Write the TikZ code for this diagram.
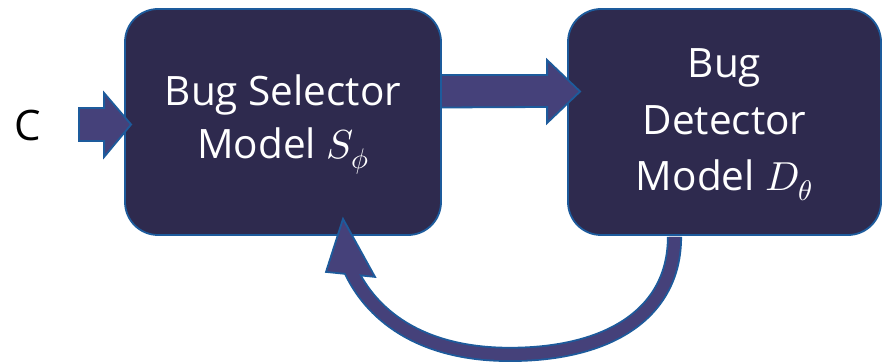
\documentclass[tikz,border=0pt]{standalone}
\usepackage{fontspec}
\usepackage{unicode-math}
\setmainfont{Open Sans}
\setmathfont{Latin Modern Math}
\usetikzlibrary{calc}

\definecolor{boxfill}{HTML}{2E2A4E}
\definecolor{arrowfill}{HTML}{45417A}
\definecolor{edgeblue}{HTML}{1D5B9C}

\tikzset{
  modelbox/.style={draw=edgeblue, line width=1.8pt, fill=boxfill,
    rounded corners=33pt, text=white, align=center, inner sep=0pt,
    font=\fontsize{40.5}{53}\selectfont},
  blockarrow/.style={draw=edgeblue, line width=1.8pt, fill=arrowfill,
    line join=miter},
  loopouter/.style={draw=edgeblue, line width=15.1pt},
  loopinner/.style={draw=arrowfill, line width=11.5pt},
}

\begin{document}
\begin{tikzpicture}[x=1pt, y=-1pt]
  \useasboundingbox (0,0) rectangle (882,363);

  % the two models
  \node[modelbox, minimum width=316pt, minimum height=226pt] (sel) at (283,122)
    {\rule{0pt}{36pt}Bug Selector\\Model $S_{\phi}$};
  \node[modelbox, minimum width=313pt, minimum height=226pt,
        font=\fontsize{40.5}{56.5}\selectfont] (det) at (724.5,122)
    {\rule{0pt}{34.5pt}Bug\\Detector\\Model $D_{\theta}$};

  % input label
  \node[font=\fontsize{42}{50}\selectfont, inner sep=0pt] (input) at (27.5,125.5) {C};

  % input arrow into the selector
  \path ([shift={(7,2.5)}]sel.west) coordinate (inTip);
  \draw[blockarrow] (inTip) -- ++(-27,-31.5) -- ++(0,15) -- ($(input.east)+(38,-17.5)$)
    -- ++(0,33) -- ($(inTip)+(-27,16.5)$) -- ++(0,16) -- cycle;

  % selector -> detector arrow
  \path ([shift={(13,-30.5)}]det.west) coordinate (midTip);
  \draw[blockarrow] ($(sel.east|-midTip)+(-1,-16.5)$) -- ($(midTip)+(-33,-16.5)$)
    -- ++(0,-15) -- (midTip) -- ++(-33,31.5) -- ++(0,-16)
    -- ($(sel.east|-midTip)+(-1,16)$) -- cycle;

  % feedback loop from detector back to selector
  \coordinate (loopStart) at ([shift={(-50,1)}]det.south);
  \coordinate (loopBottom) at ($($(sel.south)!0.5!(det.south)$)+(6,118.5)$);
  \coordinate (loopEnd) at ([shift={(67,33)}]sel.south);
  \coordinate (loopTip) at ([shift={(60,-17)}]sel.south);
  \def\feedbackpath{(loopStart) .. controls +(0,76) and +(100,0) .. (loopBottom)
    .. controls +(-92,0) and +(20,44) .. (loopEnd)}
  \draw[loopouter] \feedbackpath;
  \draw[blockarrow] (loopTip) -- ++(-17,53) -- ++(49,5) -- cycle;
  \draw[loopinner] \feedbackpath;
\end{tikzpicture}
\end{document}
